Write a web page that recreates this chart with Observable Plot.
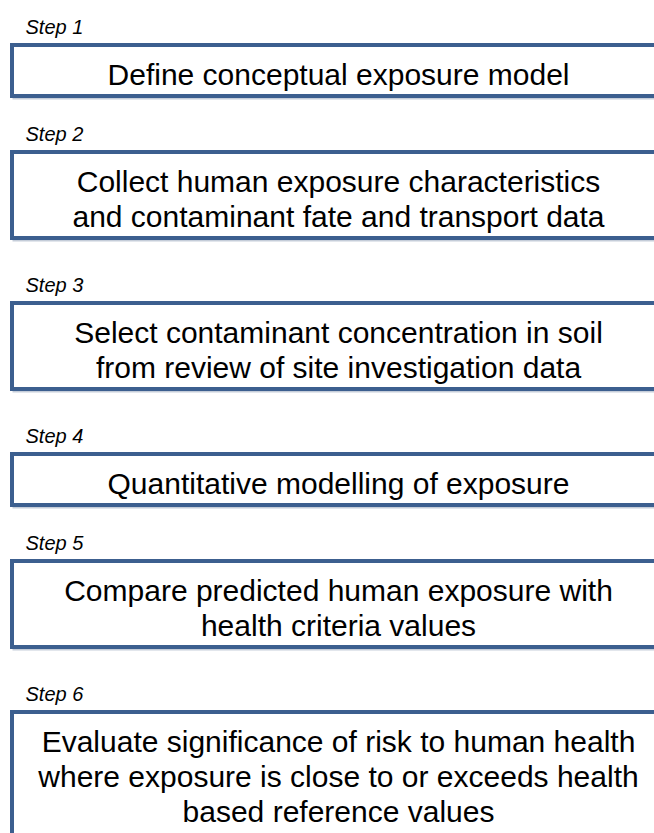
<!DOCTYPE html>
<html>
<head>
<meta charset="utf-8">
<script src="https://cdn.jsdelivr.net/npm/d3@7"></script>
<script src="https://cdn.jsdelivr.net/npm/@observablehq/plot@0.6"></script>
<style>
  html, body { margin: 0; padding: 0; background: #fff; overflow: hidden; }
  #chart svg { display: block; }
</style>
</head>
<body>
<div id="chart"></div>
<script>
// ---- Data ----
const stepLabels = ["Step 1", "Step 2", "Step 3", "Step 4", "Step 5", "Step 6"];
const stepTexts = [
  "Define conceptual exposure model",
  "Collect human exposure characteristics\nand contaminant fate and transport data",
  "Select contaminant concentration in soil\nfrom review of site investigation data",
  "Quantitative modelling of exposure",
  "Compare predicted human exposure with\nhealth criteria values",
  "Evaluate significance of risk to human health\nwhere exposure is close to or exceeds health\nbased reference values"
];

// ---- Layout (derived from line counts) ----
const W = 654, H = 833;
const firstTop = 45, lineH = 35, pad = 16, labelOffset = 18;
let cursorY = firstTop;
const rows = stepLabels.map((label, i) => {
  const lines = stepTexts[i].split("\n").length;
  const h = pad + lines * lineH;
  const isLast = i === stepLabels.length - 1;
  const r = {label, text: stepTexts[i], y1: cursorY, y2: isLast ? H + 40 : cursorY + h};
  r.ymid = cursorY + 28 + (lines - 1) * lineH / 2;
  r.ylab = cursorY - labelOffset;
  cursorY = r.y2 + 47 + 9 * lines;
  return r;
});

const font = "'Liberation Sans', Arial, Helvetica, sans-serif";
const plot = Plot.plot({
  width: W,
  height: H,
  margin: 0,
  x: {domain: [0, W], axis: null},
  y: {domain: [0, H], reverse: true, axis: null},
  style: {fontFamily: font, background: "#fff", overflow: "hidden"},
  marks: [
    // soft shadow
    Plot.rect(rows, {x1: 14, x2: W + 40, y1: d => d.y1 + 2, y2: d => d.y2 + 2, fill: "none", stroke: "#c5cdd9", strokeWidth: 3}),
    Plot.rect(rows, {x1: 12, x2: W + 40, y1: "y1", y2: "y2", fill: "#fff", stroke: "#3c5f8f", strokeWidth: 4}),
    Plot.text(rows, {x: 25, y: "ylab", text: "label", textAnchor: "start", fontSize: 20, fontStyle: "italic", fill: "#000"}),
    Plot.text(rows, {x: 338, y: "ymid", text: "text", fontSize: 30, lineHeight: 1.17, fill: "#000"})
  ]
});
document.getElementById("chart").appendChild(plot);
</script>
</body>
</html>
